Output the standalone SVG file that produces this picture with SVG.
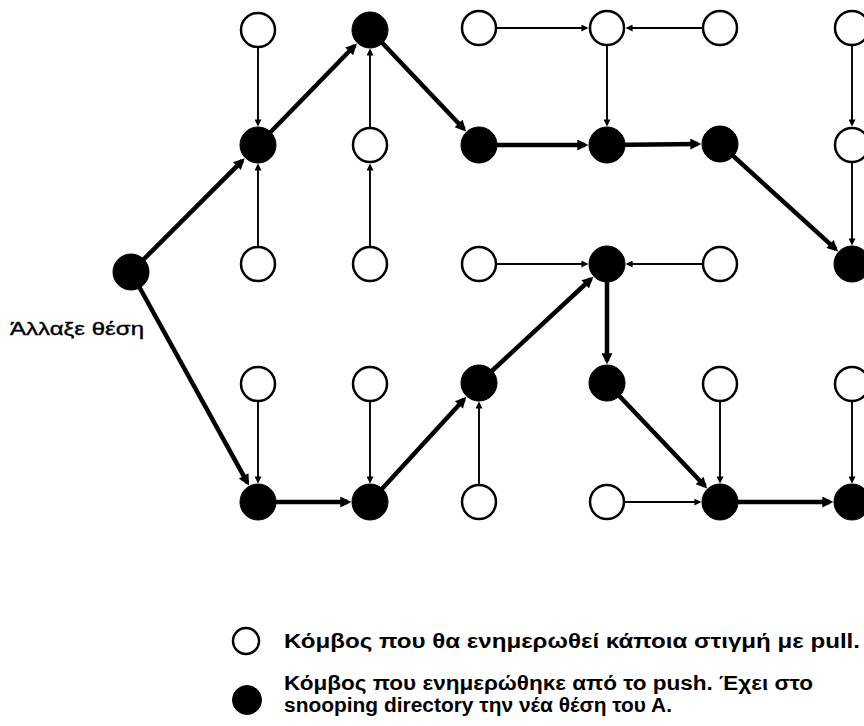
<svg xmlns="http://www.w3.org/2000/svg" width="864" height="726" viewBox="0 0 864 726">
  <style>
    .open { fill: #ffffff; stroke: #000000; stroke-width: 2.5; }
    .full { fill: #000000; stroke: #000000; stroke-width: 1; }
    .pull { stroke: #000000; stroke-width: 1.9; fill: none; marker-end: url(#headThin); }
    .push { stroke: #000000; stroke-width: 4.5; fill: none; marker-end: url(#headThick); }
    .label { font-family: "Liberation Sans", Arial, sans-serif; font-size: 19px; fill: #000000; stroke: #000000; stroke-width: 0.4; }
    .legend { font-family: "Liberation Sans", Arial, sans-serif; font-size: 20px; font-weight: bold; fill: #000000; }
  </style>
  <defs>
    <marker id="headThin" viewBox="0 0 10 10" refX="8" refY="5" markerUnits="userSpaceOnUse" markerWidth="9" markerHeight="7" orient="auto">
      <path d="M0,0 L10,5 L0,10 z" fill="#000000"/>
    </marker>
    <marker id="headThick" viewBox="0 0 10 10" refX="7" refY="5" markerUnits="userSpaceOnUse" markerWidth="13" markerHeight="11" orient="auto">
      <path d="M0,0 L10,5 L0,10 z" fill="#000000"/>
    </marker>
  </defs>

  <rect width="864" height="726" fill="#ffffff"/>

  <!-- connectors: thin = pull, thick = push path -->
  <g id="connectors">
    <line class="pull" x1="258" y1="30" x2="258" y2="125"/>
    <line class="pull" x1="258" y1="264" x2="258" y2="165"/>
    <line class="pull" x1="370" y1="145" x2="370" y2="50"/>
    <line class="pull" x1="370" y1="264" x2="370" y2="165"/>
    <line class="pull" x1="479" y1="28" x2="587" y2="28"/>
    <line class="pull" x1="720" y1="28" x2="627" y2="28"/>
    <line class="pull" x1="607" y1="28" x2="607" y2="125"/>
    <line class="pull" x1="852" y1="28" x2="852" y2="125"/>
    <line class="pull" x1="852" y1="145" x2="852" y2="244"/>
    <line class="pull" x1="479" y1="264" x2="587" y2="264"/>
    <line class="pull" x1="720" y1="264" x2="627" y2="264"/>
    <line class="pull" x1="258" y1="384" x2="258" y2="482"/>
    <line class="pull" x1="370" y1="384" x2="370" y2="482"/>
    <line class="pull" x1="479" y1="502" x2="479" y2="403"/>
    <line class="pull" x1="607" y1="502" x2="700" y2="502"/>
    <line class="pull" x1="720" y1="384" x2="720" y2="482"/>
    <line class="pull" x1="852" y1="384" x2="852" y2="482"/>

    <line class="push" x1="131" y1="272" x2="242.4" y2="160.6"/>
    <line class="push" x1="258" y1="145" x2="354.6" y2="45.8"/>
    <line class="push" x1="370" y1="30" x2="463.9" y2="129"/>
    <line class="push" x1="479" y1="145" x2="585" y2="145"/>
    <line class="push" x1="607" y1="145" x2="698" y2="144"/>
    <line class="push" x1="720" y1="144" x2="835.7" y2="249.2"/>
    <line class="push" x1="131" y1="272" x2="247.4" y2="482.7"/>
    <line class="push" x1="258" y1="502" x2="348" y2="502"/>
    <line class="push" x1="370" y1="502" x2="464.1" y2="399.2"/>
    <line class="push" x1="479" y1="383" x2="590.9" y2="279"/>
    <line class="push" x1="607" y1="264" x2="607" y2="361"/>
    <line class="push" x1="607" y1="383" x2="704.9" y2="486"/>
    <line class="push" x1="720" y1="502" x2="830" y2="502"/>
  </g>

  <!-- row 1 -->
  <g id="n-258-30"><circle class="open" cx="258" cy="30" r="17"/></g>
  <g id="n-370-30"><circle class="full" cx="370" cy="30" r="18"/></g>
  <g id="n-479-28"><circle class="open" cx="479" cy="28" r="17"/></g>
  <g id="n-607-28"><circle class="open" cx="607" cy="28" r="17"/></g>
  <g id="n-720-28"><circle class="open" cx="720" cy="28" r="17"/></g>
  <g id="n-852-28"><circle class="open" cx="852" cy="28" r="17"/></g>

  <!-- row 2 -->
  <g id="n-258-145"><circle class="full" cx="258" cy="145" r="18"/></g>
  <g id="n-370-145"><circle class="open" cx="370" cy="145" r="17"/></g>
  <g id="n-479-145"><circle class="full" cx="479" cy="145" r="18"/></g>
  <g id="n-607-145"><circle class="full" cx="607" cy="145" r="18"/></g>
  <g id="n-720-144"><circle class="full" cx="720" cy="144" r="18"/></g>
  <g id="n-852-145"><circle class="open" cx="852" cy="145" r="17"/></g>

  <!-- row 3, with the moved node A on the left -->
  <g id="nodeA">
    <circle class="full" cx="131" cy="272" r="18"/>
    <text class="label" x="10" y="335" textLength="134" lengthAdjust="spacingAndGlyphs">Άλλαξε θέση</text>
  </g>
  <g id="n-258-264"><circle class="open" cx="258" cy="264" r="17"/></g>
  <g id="n-370-264"><circle class="open" cx="370" cy="264" r="17"/></g>
  <g id="n-479-264"><circle class="open" cx="479" cy="264" r="17"/></g>
  <g id="n-607-264"><circle class="full" cx="607" cy="264" r="18"/></g>
  <g id="n-720-264"><circle class="open" cx="720" cy="264" r="17"/></g>
  <g id="n-852-264"><circle class="full" cx="852" cy="264" r="18"/></g>

  <!-- row 4 -->
  <g id="n-258-384"><circle class="open" cx="258" cy="384" r="17"/></g>
  <g id="n-370-384"><circle class="open" cx="370" cy="384" r="17"/></g>
  <g id="n-479-383"><circle class="full" cx="479" cy="383" r="18"/></g>
  <g id="n-607-383"><circle class="full" cx="607" cy="383" r="18"/></g>
  <g id="n-720-384"><circle class="open" cx="720" cy="384" r="17"/></g>
  <g id="n-852-384"><circle class="open" cx="852" cy="384" r="17"/></g>

  <!-- row 5 -->
  <g id="n-258-502"><circle class="full" cx="258" cy="502" r="18"/></g>
  <g id="n-370-502"><circle class="full" cx="370" cy="502" r="18"/></g>
  <g id="n-479-502"><circle class="open" cx="479" cy="502" r="17"/></g>
  <g id="n-607-502"><circle class="open" cx="607" cy="502" r="17"/></g>
  <g id="n-720-502"><circle class="full" cx="720" cy="502" r="18"/></g>
  <g id="n-852-502"><circle class="full" cx="852" cy="502" r="18"/></g>

  <!-- legend -->
  <g id="legend-open">
    <circle class="open" cx="246" cy="641" r="13"/>
    <text class="legend" x="284" y="648" textLength="576" lengthAdjust="spacingAndGlyphs">Κόμβος που θα ενημερωθεί κάποια στιγμή με pull.</text>
  </g>
  <g id="legend-full">
    <circle class="full" cx="247" cy="700" r="14.5"/>
    <text class="legend" x="284" y="690" textLength="529" lengthAdjust="spacingAndGlyphs">Κόμβος που ενημερώθηκε από το push. Έχει στο</text>
    <text class="legend" x="284" y="712" textLength="388" lengthAdjust="spacingAndGlyphs">snooping directory την νέα θέση του Α.</text>
  </g>
</svg>
